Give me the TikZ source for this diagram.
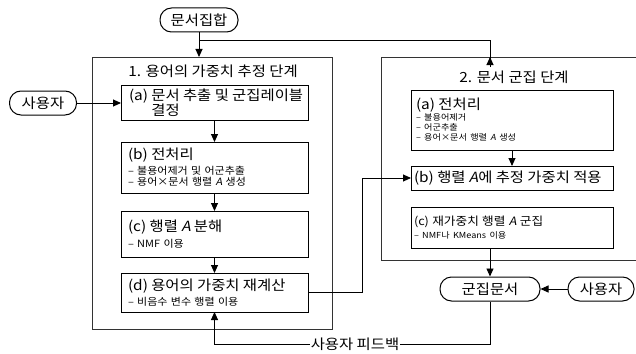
\documentclass[tikz,border=0pt]{standalone}
\usepackage{fontspec}
\setmainfont{Noto Sans CJK KR}[FakeStretch=1.1]
\newfontfamily\slantfont{Noto Sans CJK KR}[FakeStretch=1.1, FakeSlant=0.2]
\usetikzlibrary{arrows.meta, positioning}
\newcommand{\matA}{{\slantfont A}}
\newcommand{\bigtxt}{\fontsize{14}{15}\selectfont}
\newcommand{\midtxt}{\fontsize{11.5}{13}\selectfont}
\newcommand{\smalltxt}{\fontsize{10}{11}\selectfont}
\newcommand{\tinytxt}{\fontsize{8.3}{10}\selectfont}

\begin{document}
\begin{tikzpicture}[x=1pt, y=-1pt,
    frame/.style={draw=black!80, line width=0.8pt, anchor=north west, outer sep=0pt},
    procbox/.style={draw, line width=1pt, anchor=north west, align=left, outer sep=0pt, inner ysep=1pt},
    terminal/.style={draw, line width=1pt, rounded corners=11.5pt, minimum height=24pt, inner sep=1pt, font=\bigtxt},
    stage title/.style={font=\bigtxt},
    flow/.style={line width=0.9pt, -{Triangle[length=8pt,width=7pt]}},
    link/.style={line width=0.9pt},
  ]

  % Canvas
  \useasboundingbox (0,0) rectangle (636,353);
  \clip (0,0) rectangle (636,353);

  % Inputs and output
  \node[terminal, minimum width=78pt] (docset) at (199,20) {문서집합};
  \node[terminal, minimum width=67pt] (userL) at (43,103) {사용자};
  \node[terminal, minimum width=100pt] (clus) at (490,289) {군집문서};
  \node[terminal, minimum width=66pt] (userR) at (601,289) {사용자};

  % Stage 1 frame
  \node[frame, minimum width=240pt, minimum height=272pt] (stage1) at (92,57) {};
  \node[stage title] (title1) at (213,71) {1. 용어의 가중치 추정 단계};

  \node[procbox, inner xsep=8pt, text width=171pt, minimum height=35pt] (la) at (121,85)
    {\bigtxt\mbox{(a) 문서 추출 및 군집레이블}\par\mbox{\hphantom{(a)~}결정}\par};
  \node[procbox, inner xsep=7pt, text width=173pt, minimum height=51pt] (lb) at (121,142)
    {{\bigtxt (b) 전처리\par}\vspace{3pt}
     {\smalltxt – 불용어제거 및 어군추출\par – 용어×문서 행렬 \matA{} 생성\par}};
  \node[procbox, inner xsep=7pt, text width=173pt, minimum height=46pt] (lc) at (121,211)
    {{\bigtxt (c) 행렬 \matA{} 분해\par}\vspace{4pt}
     {\smalltxt – NMF 이용\par}};
  \node[procbox, inner xsep=7pt, text width=173pt, minimum height=39pt] (ld) at (121,273)
    {{\bigtxt (d) 용어의 가중치 재계산\par}\vspace{3pt}
     {\smalltxt – 비음수 변수 행렬 이용\par}};

  % Stage 2 frame
  \node[frame, minimum width=265pt, minimum height=203pt] (stage2) at (381,57) {};
  \node[stage title] (title2) at (514,77) {2. 문서 군집 단계};

  \node[procbox, inner xsep=5pt, text width=192pt, minimum height=60pt] (ra) at (411,90)
    {{\bigtxt (a) 전처리\par}\vspace{1pt}
     {\tinytxt – 불용어제거\par – 어군추출\par – 용어×문서 행렬 \matA{} 생성\par}};
  \node[procbox, inner xsep=3pt, text width=196pt, minimum height=24pt] (rb) at (411,166)
    {\bigtxt\mbox{(b) 행렬 \matA 에 추정 가중치 적용}};
  \node[procbox, inner xsep=3pt, text width=196pt, minimum height=41pt] (rc) at (411,207)
    {{\midtxt (c) 재가중치 행렬 \matA{} 군집\par}\vspace{3pt}
     {\tinytxt – NMF나 KMeans 이용\par}};

  % Feedback label
  \node[font=\bigtxt, inner sep=1pt] (fb) at (355,344) {사용자 피드백};

  % Connectors
  \coordinate (split) at (199,40);
  \draw[flow] (docset.south) -- (docset.south |- stage1.north);
  \draw[link] (split) -| (clus.north |- title2.north);
  \draw[flow] (clus.north |- title2.north) -- (clus.north |- stage2.north);
  \draw[flow] (userL.east) -- (userL.east -| la.west);
  \draw[flow] (la) -- (lb);
  \draw[flow] (lb) -- (lc);
  \draw[flow] (lc) -- (ld);
  \draw[flow] (ld.east) -- ++(54,0) |- (rb.west);
  \draw[flow] (ra) -- (rb);
  \draw[flow] (clus.north |- rc.south) -- (clus.north);
  \draw[flow] (userR.west) -- (clus.east);
  \draw[link] (clus.south) |- (fb.east);
  \draw[flow] (fb.west) -| (ld.south);

\end{tikzpicture}
\end{document}
